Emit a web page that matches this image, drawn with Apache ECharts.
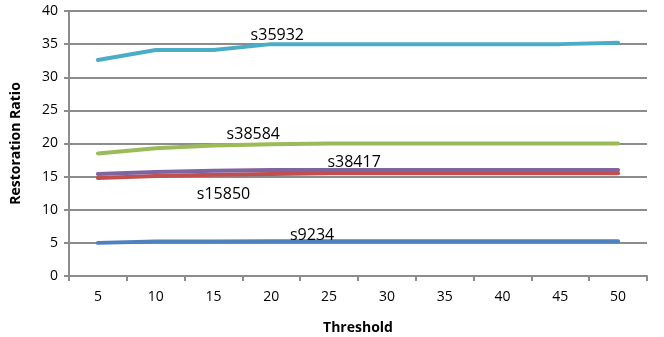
<!DOCTYPE html>
<html>
<head>
<meta charset="utf-8">
<script src="https://cdn.jsdelivr.net/npm/echarts@6/dist/echarts.min.js"></script>
<style>
  html, body { margin: 0; padding: 0; background: #fff; }
  #chart { width: 664px; height: 337px; }
</style>
</head>
<body>
<div id="chart"></div>
<script>
// Threshold values on the x axis
const thresholds = ['5', '10', '15', '20', '25', '30', '35', '40', '45', '50'];

// Restoration ratio per sample
const s35932 = [32.6, 34.1, 34.1, 35.0, 35.0, 35.0, 35.0, 35.0, 35.0, 35.2];
const s38584 = [18.5, 19.3, 19.7, 19.9, 20.0, 20.0, 20.0, 20.0, 20.0, 20.0];
const s15850 = [14.8, 15.1, 15.3, 15.4, 15.5, 15.5, 15.5, 15.5, 15.5, 15.5];
const s38417 = [15.4, 15.7, 15.9, 16.0, 16.0, 16.0, 16.0, 16.0, 16.0, 16.0];
const s9234  = [5.0, 5.2, 5.2, 5.25, 5.25, 5.25, 5.25, 5.25, 5.25, 5.25];

const FONT = '"Open Sans", sans-serif';
const GRAY = '#8c8c8c';

// Each sample is named once, next to one chosen point of its line
function makeSeries(name, values, color, labelIndex, offset) {
  return {
    name: name,
    type: 'line',
    data: values.map((v, i) => i === labelIndex ? {
      value: v,
      label: {
        show: true,
        position: 'inside',
        offset: offset,
        formatter: name,
        color: '#000',
        fontFamily: FONT,
        fontSize: 16
      }
    } : v),
    symbol: 'circle',
    symbolSize: 0,
    showSymbol: true,
    lineStyle: { color: color, width: 4, cap: 'round', join: 'round' },
    itemStyle: { color: color },
    emphasis: { disabled: true },
    silent: true
  };
}

const chart = echarts.init(document.getElementById('chart'), null, { renderer: 'canvas' });
chart.setOption({
  animation: false,
  backgroundColor: '#fff',
  grid: { left: 69, right: 17, top: 11, bottom: 61, containLabel: false, outerBoundsMode: 'none' },
  xAxis: {
    type: 'category',
    data: thresholds,
    boundaryGap: true,
    name: 'Threshold',
    nameLocation: 'middle',
    nameGap: 45,
    nameTextStyle: { fontFamily: FONT, fontSize: 14, fontWeight: 'bold', color: '#000' },
    axisLine: { show: true, lineStyle: { color: GRAY, width: 2 } },
    axisTick: { show: true, interval: 0, length: 5, lineStyle: { color: GRAY, width: 2 } },
    axisLabel: { fontFamily: FONT, fontSize: 14, color: '#000', margin: 14, interval: 0 },
    splitLine: { show: false }
  },
  yAxis: {
    type: 'value',
    min: 0,
    max: 40,
    interval: 5,
    name: 'Restoration Ratio',
    nameLocation: 'middle',
    nameGap: 46,
    nameRotate: 90,
    nameTextStyle: { fontFamily: FONT, fontSize: 14, fontWeight: 'bold', color: '#000' },
    axisLine: { show: true, lineStyle: { color: GRAY, width: 2 } },
    axisTick: { show: true, length: 5, lineStyle: { color: GRAY, width: 2 } },
    axisLabel: { fontFamily: FONT, fontSize: 14, color: '#000', margin: 11 },
    splitLine: { show: true, lineStyle: { color: GRAY, width: 2 } }
  },
  series: [
    makeSeries('s35932', s35932, '#4BACC6', 3, [6, -9]),
    makeSeries('s38584', s38584, '#9BBB59', 3, [-18, -10]),
    makeSeries('s15850', s15850, '#C0504D', 2, [10, 20]),
    makeSeries('s38417', s38417, '#8064A2', 4, [25, -8]),
    makeSeries('s9234', s9234, '#4F81BD', 4, [-17, -6])
  ]
});
</script>
</body>
</html>
